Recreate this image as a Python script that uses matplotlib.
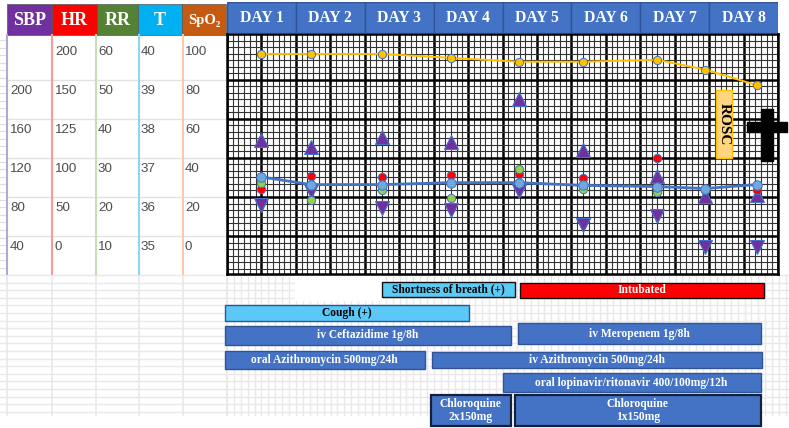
import numpy as np
import matplotlib
matplotlib.use("Agg")
import matplotlib.pyplot as plt
from matplotlib.patches import Rectangle

# ------------------------------------------------------------------ data
days = ["DAY 1", "DAY 2", "DAY 3", "DAY 4", "DAY 5", "DAY 6", "DAY 7", "DAY 8"]
vitals = ["SBP", "HR", "RR", "T", "SpO₂"]
sbp_ticks = [None, 200, 160, 120, 80, 40]
hr_ticks = [200, 150, 125, 100, 50, 0]
rr_ticks = [60, 50, 40, 30, 20, 10]
t_ticks = [40, 39, 38, 37, 36, 35]
spo2_ticks = [100, 80, 60, 40, 20, 0]

# measurement times (days since admission)
t_meas = [0.49, 1.22, 2.25, 3.25, 4.24, 5.17, 6.25, 6.94, 7.69]
sbp = [150, 143, 153, 148, 192, 140, 113, 92, 93]
dbp = [83, 97, 80, 78, 97, 63, 72, 39, 40]
hr = [74, 91, 90, 92, 94, 88, 107, 73, 73]
rr = [26.5, 22, 24.5, 22.5, 30, 25, 24, np.nan, np.nan]
temp = [36.8, 36.6, 36.6, 36.65, 36.65, 36.58, 36.55, 36.5, 36.6]
spo2 = [99, 99, 99, 97, 95, 95, 96, 91, 83]

treat_labels = ["Shortness of breath (+)", "Intubated", "Cough (+)",
                "iv Ceftazidime 1g/8h", "iv Meropenem 1g/8h",
                "oral Azithromycin 500mg/24h", "iv Azithromycin 500mg/24h",
                "oral lopinavir/ritonavir 400/100mg/12h",
                "Chloroquine\n2x150mg", "Chloroquine\n1x150mg"]
treat_start = [2.25, 4.26, -0.03, -0.03, 4.23, -0.03, 2.98, 4.00, 2.96, 4.18]
treat_end = [4.18, 7.80, 3.52, 4.12, 7.75, 2.87, 7.77, 7.75, 4.12, 7.75]

# ------------------------------------------------------------------ layout / style
W, H = 789, 428
CX0, CX1, CY0, CY1 = 227, 778, 34, 274       # chart box (px)
ROW_PX = 39.0
LABEL_Y = [52, 91, 130, 168.5, 207.5, 246.5]  # text rows of left table (px)
level_u = np.array([100, 80, 60, 40, 20, 0], float)   # common level scale
u_per_px = 20 / ROW_PX
u_top = 100 + (52 - CY0) * u_per_px
u_bot = 0 - (CY1 - 247) * u_per_px

lane_c = [289.2, 290.2, 312.8, 335.5, 333.7, 360.0, 359.7, 382.8, 410.5, 410.5]
lane_h = [15, 15, 15.7, 19, 20.7, 18, 16, 19, 31, 31]
BLUE = "#4472C4"
lane_face = ["#5BCBF5", "#FF0000", "#5BC8F8"] + [BLUE] * 7
lane_edge = ["#111111", "#111111", "#2F5597", "#2F5597", "#2F5597", "#2F5597",
             "#2F5597", "#2F5597", "#15203a", "#15203a"]
lane_lw = [1.0, 1.0, 1.0, 1.0, 1.0, 1.0, 1.0, 1.0, 1.6, 1.6]
lane_tc = ["black", "white", "black"] + ["white"] * 7

SERIF = ["Liberation Serif", "DejaVu Serif"]
SANS = ["Liberation Sans", "DejaVu Sans"]


def frac(x0, y0, x1, y1):
    return [x0 / W, 1 - y1 / H, (x1 - x0) / W, (y1 - y0) / H]


def to_u(vals, ticks):
    pairs = [(t, u) for t, u in zip(ticks, level_u) if t is not None]
    xp = np.array([p[0] for p in pairs], float)
    fp = np.array([p[1] for p in pairs], float)
    order = np.argsort(xp)
    return np.interp(np.asarray(vals, float), xp[order], fp[order])


fig = plt.figure(figsize=(W / 100, H / 100), dpi=100)
fig.patch.set_facecolor("white")

# ------------------------------------------------------------------ background (pixel axes)
bg = fig.add_axes([0, 0, 1, 1], zorder=0)
bg.set_xlim(0, W)
bg.set_ylim(H, 0)
bg.axis("off")

faint = "#E9E9E9"
for y in np.arange(275, 416, 7.6):
    bg.plot([0, W], [y, y], color=faint, lw=1.0)
for x in np.arange(CX0, W, 6.9):
    bg.plot([x, x], [275, 415], color=faint, lw=1.0)
col_x = [7, 52, 96, 139, 183, 227]
for x in col_x:
    bg.plot([x, x], [275, 415], color=faint, lw=1.2)
bg.add_patch(Rectangle((295, 275), 87, 25, color="white", zorder=2))
# little excel row ticks on the far left
for y in np.arange(40, 274, 7.6):
    bg.plot([0, 6], [y, y], color="#DDDDDD", lw=0.8)
# table row separators
for y in [80, 119, 158, 197, 236]:
    bg.plot([7, 226], [y, y], color="#E2E2E2", lw=1.0)

# table header
head_x = [7, 52, 97, 138, 182, 226]
head_col = ["#7030A0", "#FF0000", "#548235", "#00B0F0", "#C55A11"]
for i, name in enumerate(vitals):
    x0, x1 = head_x[i], head_x[i + 1]
    bg.add_patch(Rectangle((x0, 4), x1 - x0, 31, facecolor=head_col[i],
                           edgecolor="#555555", lw=0.5, zorder=3))
    bg.text((x0 + x1) / 2, 20, name, color="white", fontweight="bold",
            family=SERIF, fontsize=13 if i < 4 else 10.5,
            ha="center", va="center", zorder=4)

# colored column lines
line_x = [7, 52, 96, 139, 183]
line_col = ["#B4A7D6", "#FF9999", "#C5E0B4", "#8FD6F2", "#F8CBAD"]
for x, c in zip(line_x, line_col):
    bg.plot([x, x], [35, 274], color=c, lw=1.5, zorder=3)

# table values
tick_cols = [sbp_ticks, hr_ticks, rr_ticks, t_ticks, spo2_ticks]
text_x = [10, 55, 98, 141, 185]
for tx, ticks in zip(text_x, tick_cols):
    for ty, v in zip(LABEL_Y, ticks):
        if v is None:
            continue
        bg.text(tx, ty, str(v), color="#4d4d4d", family=SANS, fontsize=9.6,
                ha="left", va="center", zorder=4)

# ------------------------------------------------------------------ day header
hd = fig.add_axes(frac(CX0, 2, CX1, 33), zorder=2)
hd.set_xlim(0, 8)
hd.set_ylim(0, 1)
hd.axis("off")
xc = np.arange(len(days)) + 0.5
hd.bar(xc, 1, width=1, bottom=0, color=BLUE, edgecolor="#2F5597", lw=1.0)
for x, d in zip(xc, days):
    hd.text(x, 0.5, d, color="white", fontweight="bold", family=SERIF,
            fontsize=11.3, ha="center", va="center")

# ------------------------------------------------------------------ vitals chart
ax = fig.add_axes(frac(CX0, CY0, CX1, CY1), zorder=3)
ax.set_xlim(0, 8)
ax.set_ylim(u_bot, u_top)
ax.set_facecolor("white")
ax.set_xticks([])
ax.set_yticks([])
for s in ax.spines.values():
    s.set_color("black")
    s.set_linewidth(1.8)

# grid
for x in np.arange(0, 8.001, 1 / 12):
    thick = abs(x * 2 - round(x * 2)) < 1e-6
    ax.axvline(x, color="black" if thick else "#333333",
               lw=1.8 if thick else 0.8, zorder=1)
thick_u = level_u[1:] + 11 * u_per_px
step = 20 / 6
for u in np.arange(thick_u[-1] - 6 * step, u_top, step):
    is_thick = np.any(np.abs(thick_u - u) < 1e-6)
    ax.axhline(u, color="black" if is_thick else "#333333",
               lw=1.8 if is_thick else 0.8, zorder=1)

edge = "#4472C4"
ax.plot(t_meas, to_u(sbp, sbp_ticks), linestyle="none", marker="^", ms=10,
        mfc="#7030A0", mec=edge, mew=0.8, zorder=3)
ax.plot(t_meas, to_u(dbp, sbp_ticks), linestyle="none", marker="v", ms=10,
        mfc="#7030A0", mec=edge, mew=0.8, zorder=3)
ax.plot(t_meas, to_u(hr, hr_ticks), linestyle="none", marker="o", ms=6,
        mfc="#FF0000", mec=edge, mew=0.7, zorder=4)
ax.plot(t_meas, to_u(rr, rr_ticks), linestyle="none", marker="o", ms=6,
        mfc="#92D050", mec=edge, mew=0.7, zorder=5)
ax.plot(t_meas, to_u(spo2, spo2_ticks), color="#FFC000", lw=1.4, marker="o",
        ms=6, mfc="#FFC000", mec=edge, mew=0.7, zorder=6)
ax.plot(t_meas, to_u(temp, t_ticks), color="#4472C4", lw=2.0, marker="o",
        ms=6.8, mfc="#6FA8DC", mec=edge, mew=0.7, zorder=7)

# ------------------------------------------------------------------ annotations (ROSC, cross)
ov = fig.add_axes([0, 0, 1, 1], zorder=6)
ov.set_xlim(0, W)
ov.set_ylim(H, 0)
ov.axis("off")
ov.patch.set_alpha(0)
ov.add_patch(Rectangle((716, 90), 16.5, 68, facecolor="#FFD580",
                       edgecolor="#FFC000", lw=1.0))
ov.text(724.2, 124, "ROSC", rotation=270, color="black", fontweight="bold",
        family=SERIF, fontsize=11, ha="center", va="center")
ov.add_patch(Rectangle((761, 109), 12.3, 52, color="black"))
ov.add_patch(Rectangle((746.7, 121.7), 40, 10, color="black"))

# ------------------------------------------------------------------ treatment timeline
tr = fig.add_axes(frac(CX0, 275, CX1, H), zorder=4)
tr.set_xlim(0, 8)
tr.set_ylim(H, 275)
tr.axis("off")
tr.patch.set_alpha(0)
for i, lab in enumerate(treat_labels):
    s, e = treat_start[i], treat_end[i]
    tr.barh(lane_c[i], e - s, left=s, height=lane_h[i], color=lane_face[i],
            edgecolor=lane_edge[i], lw=lane_lw[i], clip_on=False)
    tr.text((s + e) / 2, lane_c[i], lab, color=lane_tc[i], fontweight="bold",
            family=SERIF, fontsize=8.3, ha="center", va="center",
            linespacing=1.05)

fig.savefig("out.png", dpi=100)
